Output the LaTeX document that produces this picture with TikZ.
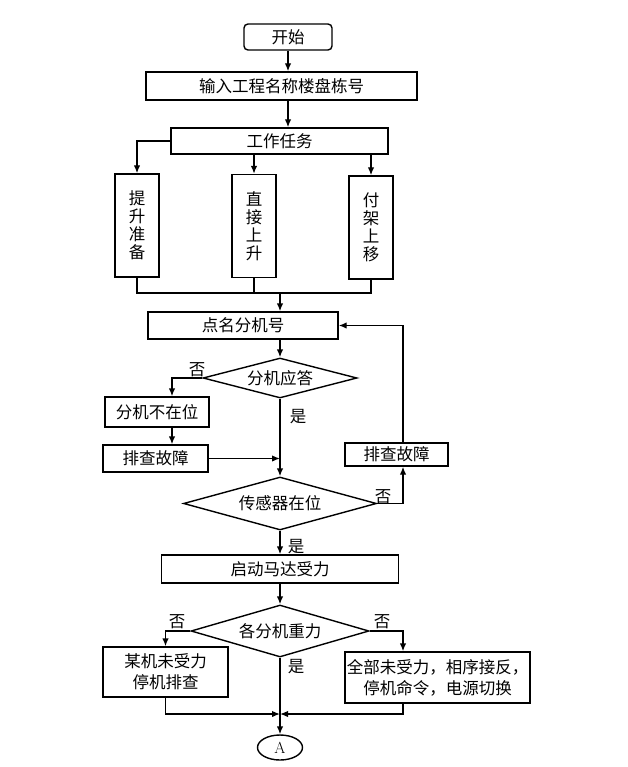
\documentclass[tikz,border=0pt]{standalone}
\usepackage{fontspec}
\newfontfamily\cjk{Noto Sans CJK SC}
\usepackage{tikz}
\usetikzlibrary{arrows.meta,shapes.geometric,calc}
\tikzstyle{box}=[rectangle,draw,line width=1.4pt,inner sep=0pt,font=\cjk\fontsize{16.5}{21}\selectfont]
\tikzstyle{tallbox}=[box,align=center,minimum width=44pt,minimum height=103pt,font=\cjk\fontsize{16.5}{18}\selectfont]
\tikzstyle{decision}=[diamond,draw,line width=1.4pt,aspect=3.5,inner sep=0pt,font=\cjk\fontsize{16.5}{18}\selectfont]
\tikzstyle{edge} = [draw,line width=1.4pt,-{Latex[length=8pt,width=6.5pt]}]
\tikzstyle{wire} = [draw,line width=1.4pt]
\tikzstyle{answer} = [inner sep=0pt,font=\cjk\fontsize{16.5}{18}\selectfont]

\begin{document}
\begin{tikzpicture}[x=1pt,y=-1pt]
    \useasboundingbox (0,0) rectangle (627,767);
    % Start and the task boxes
    \node[box,rounded corners=4pt,minimum width=88pt,minimum height=26pt] (start) at (288,37) {开始};
    \node[box,minimum width=271pt,minimum height=28pt] (input) at (281.5,86) {输入工程名称楼盘栋号};
    \node[box,minimum width=217pt,minimum height=26pt] (task) at (279.5,141) {工作任务};
    \foreach \pos/\name/\word in {{(137,225.5)/lift/{提\\升\\准\\备}}, {(254,226)/direct/{直\\接\\上\\升}}, {(371,227.5)/move/{付\\架\\上\\移}}}
        \node[tallbox] (\name) at \pos {\word};

    \path[edge] (start.south) -- (start.south |- input.north);
    \path[edge] (input.south -| start.south) -- (task.north -| start.south);
    \path[edge] (task.west) -| (lift.north);
    \path[edge] (task.south -| direct.north) -- (direct.north);
    \path[edge] (task.south -| move.north) -- (move.north);

    % Roll call of the units
    \node[box,minimum width=190pt,minimum height=27pt] (rollcall) at (243,325.5) {点名分机号};
    \node[decision,minimum width=154pt,minimum height=40pt] (reply) at (280,378) {分机应答};
    \node[box,minimum width=104pt,minimum height=30pt] (absent) at (157,412) {分机不在位};
    \node[box,minimum width=105pt,minimum height=27pt] (check1) at (155.5,458.5) {排查故障};
    \node[decision,minimum width=193pt,minimum height=53pt] (sensor) at (280,503.5) {传感器在位};
    \node[box,minimum width=103pt,minimum height=23pt] (check2) at (396.5,454.5) {排查故障};

    \coordinate (join) at (280,293);
    \path[wire] (lift.south) |- (join) -| (move.south);
    \path[wire] (direct.south) -- (direct.south |- join);
    \path[edge] (join) -- (join |- rollcall.north);
    \path[edge] (rollcall.south -| reply.north) -- (reply.north);

    \coordinate (absentin) at ([xshift=15pt]absent.north);
    \coordinate (absentout) at ([xshift=15pt]absent.south);
    \path[edge] (reply.west) -| (absentin);
    \path[edge] (absentout) -- (absentout |- check1.north);
    \path[edge] (check1.east) -- (check1.east -| reply.south);
    \path[edge] (reply.south) -- (sensor.north);

    \coordinate (check2in) at ([xshift=6.5pt]check2.south);
    \coordinate (check2out) at ([xshift=6.5pt]check2.north);
    \path[edge] (sensor.east) -| (check2in);
    \path[edge] (check2out) |- (rollcall.east);

    % Motor load test
    \node[box,minimum width=237pt,minimum height=28pt] (motor) at (280,569) {启动马达受力};
    \node[decision,minimum width=178pt,minimum height=52pt] (force) at (280,631) {各分机重力};
    \node[box,align=center,minimum width=185pt,minimum height=51pt] (all) at (437.5,677.5) {全部未受力，相序接反，\\停机命令，电源切换};
    \node[box,align=center,minimum width=125pt,minimum height=50pt] (some) at (165.5,672) {某机未受力\\停机排查};
    \node[draw,ellipse,line width=1.4pt,inner sep=0pt,minimum width=45pt,minimum height=25pt,font=\fontsize{16}{18}\selectfont] (A) at (280,747.5) {A};

    \path[edge] (sensor.south) -- (motor.north);
    \path[edge] (motor.south) -- (force.north);
    \coordinate (allin) at ([xshift=-34.5pt]all.north);
    \coordinate (allout) at ([xshift=-34.5pt]all.south);
    \path[edge] (force.west) -| (some.north);
    \path[edge] (force.east) -| (allin);
    \path[edge] (force.south) -- (A.north);
    \coordinate (join2) at (280,714);
    \path[edge] (some.south) |- (join2);
    \path[edge] (allout) |- (join2);

    % yes / no marks
    \foreach \pos/\name/\word in {{(298,417)/yes1/是}, {(296,547)/yes2/是}, {(296,667)/yes3/是}, {(197,370)/no1/否}, {(383,497)/no2/否}, {(177,622)/no3/否}, {(382,622)/no4/否}}
        \node[answer] (\name) at \pos {\word};
\end{tikzpicture}
\end{document}
